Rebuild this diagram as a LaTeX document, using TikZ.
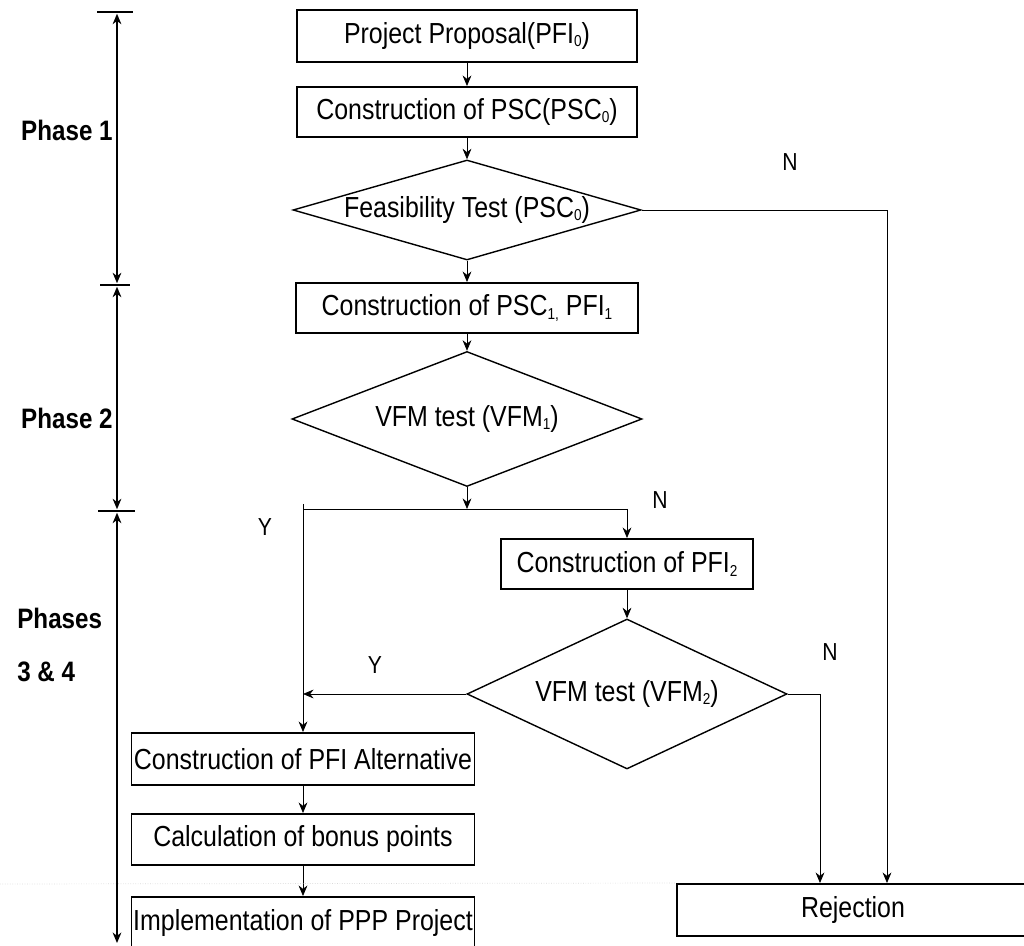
\documentclass[tikz,border=0pt]{standalone}
\usepackage{fontspec}
\setmainfont{Liberation Sans}[FakeStretch=0.86]
\usetikzlibrary{shapes.geometric,positioning,arrows.meta}

\newcommand\idx[1]{\raisebox{-0.2ex}{\fontsize{9}{9}\selectfont #1}}

\begin{document}
\begin{tikzpicture}[->,>={Stealth[length=6pt,width=5pt]},auto,thin,font=\fontsize{16.5}{19}\selectfont,
    box/.style={draw,rectangle,line width=1.1pt,inner sep=0pt,minimum height=1cm},
    test/.style={draw,diamond,line width=0.8pt,inner sep=0pt},
    phase/.style={inner sep=0pt,font=\fontsize{16}{19}\selectfont\bfseries},
    yn/.style={inner sep=0pt,font=\fontsize{14}{16}\selectfont}]
    \useasboundingbox (0,0) rectangle (20.48,-18.92);

    % main column
    \node[box,minimum width=6.8cm,minimum height=1.04cm] (1) at (9.34,-0.72) {Project Proposal(PFI\idx{0})};
    \node[box,minimum width=6.8cm] (2) [below of = 1, node distance=1.52cm] {Construction of PSC(PSC\idx{0})};
    \node[test,shape aspect=3.48,minimum width=6.96cm,minimum height=2cm] (3) [below of = 2, node distance=1.96cm] {Feasibility Test (PSC\idx{0})};
    \node[box,minimum width=6.84cm] (4) [below of = 3, node distance=1.96cm] {Construction of PSC\idx{1,} PFI\idx{1}};
    \node[test,shape aspect=2.6,minimum width=7cm,minimum height=2.7cm] (5) [below of = 4, node distance=2.22cm] {VFM test (VFM\idx{1})};

    \coordinate (s) at (9.34,-10.18);
    \coordinate (sl) at (6.06,-10.08);
    \coordinate (sr) at (12.54,-10.18);

    % right branch
    \node[box,minimum width=5.04cm] (6) at (12.54,-11.28) {Construction of PFI\idx{2}};
    \node[test,shape aspect=2.13,minimum width=6.4cm,minimum height=3cm] (7) [below of = 6, node distance=2.6cm] {VFM test (VFM\idx{2})};
    \node[box,minimum width=7.4cm,minimum height=1.04cm] (8) at (17.24,-18.2) {};
    \node (rej) at (17.06,-18.2) {Rejection};

    % left branch
    \node[box,minimum width=6.86cm,minimum height=1.04cm] (9) at (6.06,-15.18) {Construction of PFI Alternative};
    \node[box,minimum width=6.86cm,minimum height=1.02cm] (10) [below of = 9, node distance=1.61cm] {Calculation of bonus points};
    \node[box,minimum width=6.86cm,minimum height=1.04cm] (11) [below of = 10, node distance=1.67cm] {Implementation of PPP Project};

    \path
        (1) edge (2)
        (2) edge (3)
        (3) edge (4)
        (4) edge (5)
        (6) edge (7)
        (9) edge (10)
        (10) edge (11)
        ;
    \draw (5) -- (s);
    \draw[-] (sl |- s) -- (sr);
    \draw (sl) -- (sl |- 9.north);
    \draw (sr) -- (6);
    \draw (7.west) -- (7.west -| sl);
    \draw (7.east) -| ([xshift=-0.66cm]rej.north |- 8.north);
    \draw (3.east) -| ([xshift=0.68cm]rej.north |- 8.north);
    \draw[-,densely dotted,gray!30] (0,-17.68) -- (8.north west);

    % Y / N labels
    \node[yn] (n1) at (15.8,-3.24) {N};
    \node[yn] (n2) at (13.2,-10.0) {N};
    \node[yn] (y1) at (5.3,-10.54) {Y};
    \node[yn] (y2) at (7.5,-13.3) {Y};
    \node[yn] (n3) at (16.6,-13.04) {N};

    % phases
    \coordinate (t1) at (2.34,-0.24);
    \coordinate (t2) at (2.34,-5.7);
    \coordinate (t3) at (2.34,-10.22);
    \coordinate (t4) at (2.34,-18.86);
    \draw[-,line width=0.9pt] ([xshift=-0.4cm]t1) -- ([xshift=0.32cm]t1);
    \draw[-,line width=0.9pt] ([xshift=-0.34cm]t2) -- ([xshift=0.26cm]t2);
    \draw[-,line width=0.9pt] ([xshift=-0.38cm]t3) -- ([xshift=0.36cm]t3);
    \draw[<->,line width=0.8pt,shorten <=1pt,shorten >=1pt] (t1) -- (t2);
    \draw[<->,line width=0.8pt,shorten <=1pt,shorten >=1pt] (t2) -- (t3);
    \draw[<->,line width=0.8pt,shorten <=1pt] (t3) -- (t4);

    \node[phase,anchor=east] (p1) at (2.26,-2.6) {Phase 1};
    \node[phase,anchor=east] (p2) at (2.26,-8.36) {Phase 2};
    \node[phase,anchor=west] (p3) at (0.34,-12.36) {Phases};
    \node[phase,anchor=west] (p4) at (0.34,-13.44) {3 \& 4};
\end{tikzpicture}
\end{document}
